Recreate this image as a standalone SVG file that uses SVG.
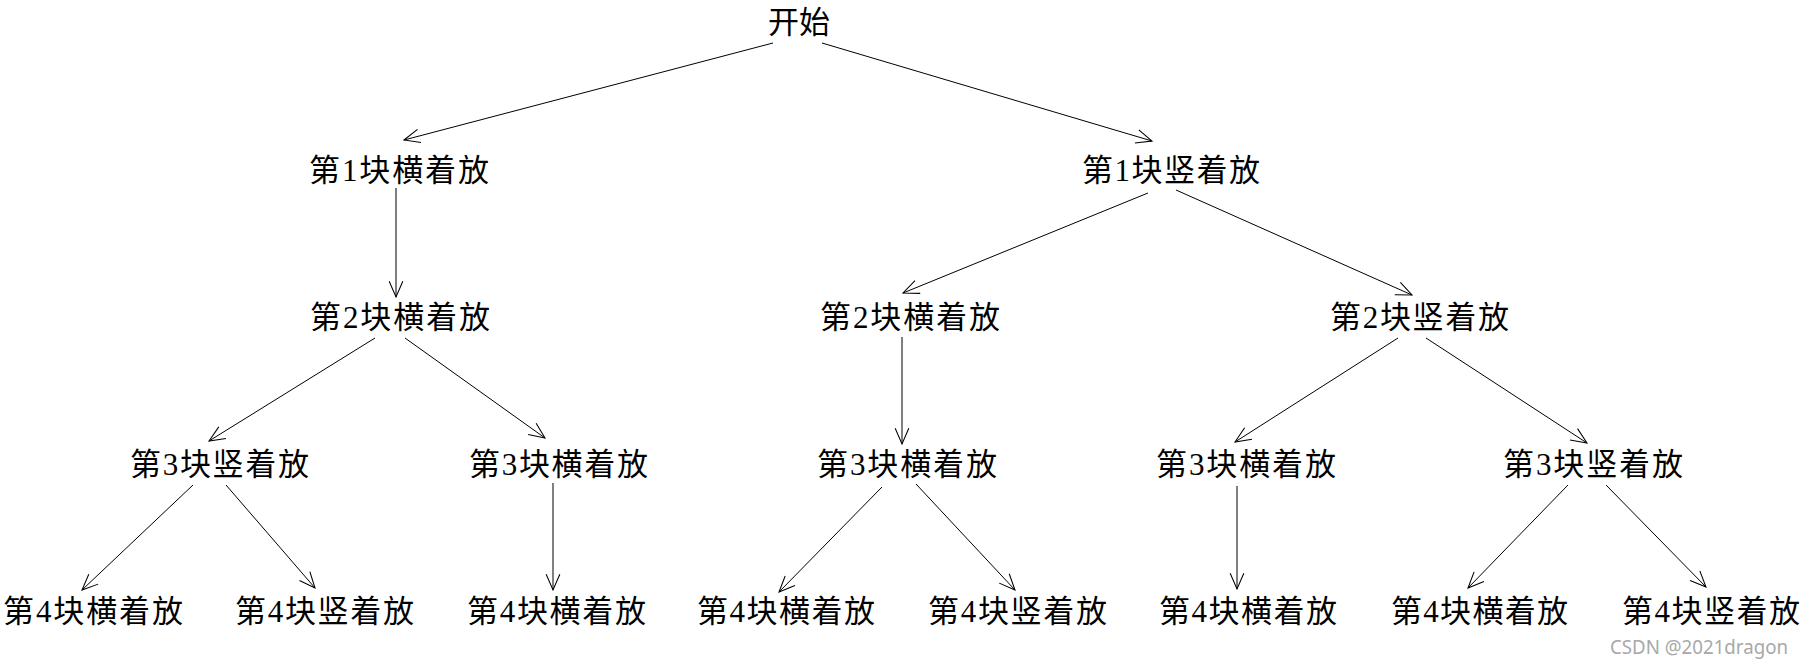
<svg xmlns="http://www.w3.org/2000/svg" width="1805" height="666" viewBox="0 0 1805 666">
<style>
.lbl{font-family:"Liberation Serif","Noto Sans CJK SC",serif;font-size:31px;fill:#000}
.edge{stroke:#000;stroke-width:1;fill:none;marker-end:url(#arr)}
.wm{font-family:"Noto Sans","Liberation Sans",sans-serif;font-size:20px;fill:#a8a8a8}
</style>
<defs>
<marker id="arr" markerUnits="userSpaceOnUse" markerWidth="20" markerHeight="20" viewBox="-17 -9 19 18" refX="0" refY="0" orient="auto">
<path d="M-15,-6.5 L0,0 L-15,6.5" fill="none" stroke="#000" stroke-width="1"/>
</marker>
</defs>
<rect width="1805" height="666" fill="#fff"/>
<g id="connectors">
<line class="edge" x1="773" y1="43" x2="404" y2="140"/>
<line class="edge" x1="822" y1="43" x2="1152" y2="141"/>
<line class="edge" x1="396" y1="188" x2="396" y2="297"/>
<line class="edge" x1="1148" y1="193" x2="903" y2="293"/>
<line class="edge" x1="1176" y1="190" x2="1412" y2="295"/>
<line class="edge" x1="375" y1="338" x2="209" y2="441"/>
<line class="edge" x1="405" y1="338" x2="545" y2="438"/>
<line class="edge" x1="902" y1="337" x2="902" y2="444"/>
<line class="edge" x1="1398" y1="338" x2="1235" y2="442"/>
<line class="edge" x1="1426" y1="338" x2="1587" y2="443"/>
<line class="edge" x1="193" y1="485" x2="82" y2="590"/>
<line class="edge" x1="226" y1="485" x2="315" y2="588"/>
<line class="edge" x1="553" y1="483" x2="553" y2="590"/>
<line class="edge" x1="882" y1="487" x2="779" y2="592"/>
<line class="edge" x1="916" y1="484" x2="1015" y2="590"/>
<line class="edge" x1="1237" y1="486" x2="1237" y2="589"/>
<line class="edge" x1="1568" y1="485" x2="1468" y2="588"/>
<line class="edge" x1="1606" y1="485" x2="1706" y2="587"/>
</g>
<g id="n0"><text class="lbl" x="768" y="33" textLength="62" lengthAdjust="spacing">开始</text></g>
<g id="n1a"><text class="lbl" x="309" y="181" textLength="180" lengthAdjust="spacing">第1块横着放</text></g>
<g id="n1b"><text class="lbl" x="1082" y="181" textLength="178" lengthAdjust="spacing">第1块竖着放</text></g>
<g id="n2a"><text class="lbl" x="310" y="328" textLength="180" lengthAdjust="spacing">第2块横着放</text></g>
<g id="n2b"><text class="lbl" x="820" y="328" textLength="180" lengthAdjust="spacing">第2块横着放</text></g>
<g id="n2c"><text class="lbl" x="1330" y="328" textLength="179" lengthAdjust="spacing">第2块竖着放</text></g>
<g id="n3a"><text class="lbl" x="130" y="475" textLength="179" lengthAdjust="spacing">第3块竖着放</text></g>
<g id="n3b"><text class="lbl" x="469" y="475" textLength="179" lengthAdjust="spacing">第3块横着放</text></g>
<g id="n3c"><text class="lbl" x="817" y="475" textLength="180" lengthAdjust="spacing">第3块横着放</text></g>
<g id="n3d"><text class="lbl" x="1156" y="475" textLength="180" lengthAdjust="spacing">第3块横着放</text></g>
<g id="n3e"><text class="lbl" x="1503" y="475" textLength="180" lengthAdjust="spacing">第3块竖着放</text></g>
<g id="n4a"><text class="lbl" x="3" y="622" textLength="180" lengthAdjust="spacing">第4块横着放</text></g>
<g id="n4b"><text class="lbl" x="235" y="622" textLength="179" lengthAdjust="spacing">第4块竖着放</text></g>
<g id="n4c"><text class="lbl" x="467" y="622" textLength="179" lengthAdjust="spacing">第4块横着放</text></g>
<g id="n4d"><text class="lbl" x="697" y="622" textLength="178" lengthAdjust="spacing">第4块横着放</text></g>
<g id="n4e"><text class="lbl" x="928" y="622" textLength="179" lengthAdjust="spacing">第4块竖着放</text></g>
<g id="n4f"><text class="lbl" x="1159" y="622" textLength="178" lengthAdjust="spacing">第4块横着放</text></g>
<g id="n4g"><text class="lbl" x="1391" y="622" textLength="177" lengthAdjust="spacing">第4块横着放</text></g>
<g id="n4h"><text class="lbl" x="1622" y="622" textLength="178" lengthAdjust="spacing">第4块竖着放</text></g>
<text class="wm" x="1610" y="654" textLength="178" lengthAdjust="spacingAndGlyphs">CSDN @2021dragon</text>
</svg>
